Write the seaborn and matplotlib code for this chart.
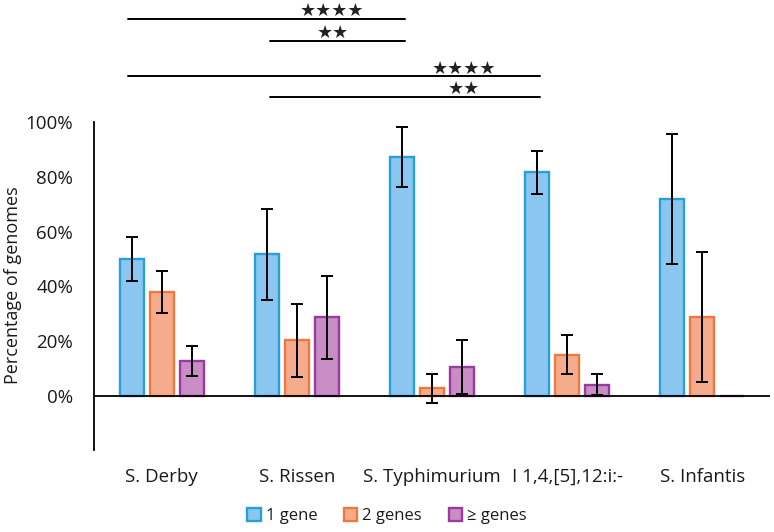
import numpy as np
import pandas as pd
import matplotlib
matplotlib.use("Agg")
import matplotlib.pyplot as plt
import seaborn as sns
from matplotlib.patches import Patch
from matplotlib.ticker import FuncFormatter

# values (percent)
categories = ["S. Derby", "S. Rissen", "S. Typhimurium", "I 1,4,[5],12:i:-", "S. Infantis"]
series = ["1 gene", "2 genes", "\u2265 genes"]
one_gene = [50.0, 51.7, 87.3, 81.6, 71.9]
one_err = [8.0, 16.6, 10.9, 7.8, 23.7]
two_genes = [38.0, 20.3, 2.8, 15.1, 28.7]
two_err = [7.7, 13.4, 5.2, 7.0, 23.7]
more_genes = [12.8, 28.7, 10.7, 4.1, 0.0]
more_err = [5.4, 15.1, 9.9, 3.8, np.nan]

# significance brackets: (start pos, end pos, height, label)
sig_lines = [(-0.25, 1.8, 137.6, "\u2605\u2605\u2605\u2605"),
             (0.8, 1.8, 129.6, "\u2605\u2605"),
             (-0.25, 2.8, 116.7, "\u2605\u2605\u2605\u2605"),
             (0.8, 2.8, 109.2, "\u2605\u2605")]
star_x = [1.26, 1.27, 2.24, 2.24]

fills = ["#8ac6f0", "#f5ab8c", "#c98dc6"]
edges = ["#27a0d8", "#ea7a3e", "#9b3a9e"]

df = pd.DataFrame({
    "category": categories * 3,
    "series": [s for s in series for _ in categories],
    "value": one_gene + two_genes + more_genes,
    "err": one_err + two_err + more_err,
})

sns.set_style("white")
plt.rcParams["font.family"] = ["Open Sans", "DejaVu Sans"]

fig = plt.figure(figsize=(7.74, 5.32), dpi=100)
ax = fig.add_axes([94 / 774, 82 / 532, 676 / 774, 450 / 532])

sns.barplot(data=df, x="category", y="value", hue="series", order=categories,
            hue_order=series, palette=fills, saturation=1, width=0.666, gap=0.2,
            ax=ax, legend=False, errorbar=None)

slot = 0.666 / 3
for j, s in enumerate(series):
    sub = df[df["series"] == s]
    for b in ax.containers[j]:
        b.set_edgecolor(edges[j])
        b.set_linewidth(1.7)
    xs = np.arange(len(categories)) + (j - 1) * slot
    ax.errorbar(xs, sub["value"].values, yerr=sub["err"].values, fmt="none",
                ecolor="black", elinewidth=1.4, capsize=4.5, capthick=1.4, zorder=5)

ax.axhline(0, color="black", lw=1.3, zorder=4)
ax.set_xlim(-0.5, 4.5)
ax.set_ylim(-19.7, 144.5)
ax.set_yticks([0, 20, 40, 60, 80, 100])
ax.yaxis.set_major_formatter(FuncFormatter(lambda v, p: f"{v:.0f}%"))
for sp in ["top", "right", "bottom"]:
    ax.spines[sp].set_visible(False)
ax.spines["left"].set_bounds(-19.7, 100)
ax.spines["left"].set_color("black")
ax.spines["left"].set_linewidth(1.3)
ax.tick_params(axis="both", length=0, labelsize=13.5, colors="#1a1a1a")
ax.tick_params(axis="x", pad=13)
ax.tick_params(axis="y", pad=15)
ax.set_xlabel("")
ax.set_ylabel("Percentage of genomes", fontsize=13, color="#1a1a1a")
ax.yaxis.set_label_coords(-72 / 676, 165 / 450)

for (x0, x1, y, lab), sx in zip(sig_lines, star_x):
    ax.plot([x0, x1], [y, y], color="black", lw=1.4, clip_on=False)
    ax.text(sx, y + 2.8, lab, ha="center", va="center", fontsize=13,
            family="DejaVu Sans", color="#222222", clip_on=False)

handles = [Patch(facecolor=fills[j], edgecolor=edges[j], linewidth=1.7, label=series[j])
           for j in range(3)]
fig.legend(handles=handles, loc="center", bbox_to_anchor=(0.5, 0.03), ncol=3,
           frameon=False, fontsize=12, handlelength=0.8, handleheight=0.8,
           handletextpad=0.3, columnspacing=1.6, labelcolor="#1a1a1a")

fig.savefig("out.png", dpi=100)
